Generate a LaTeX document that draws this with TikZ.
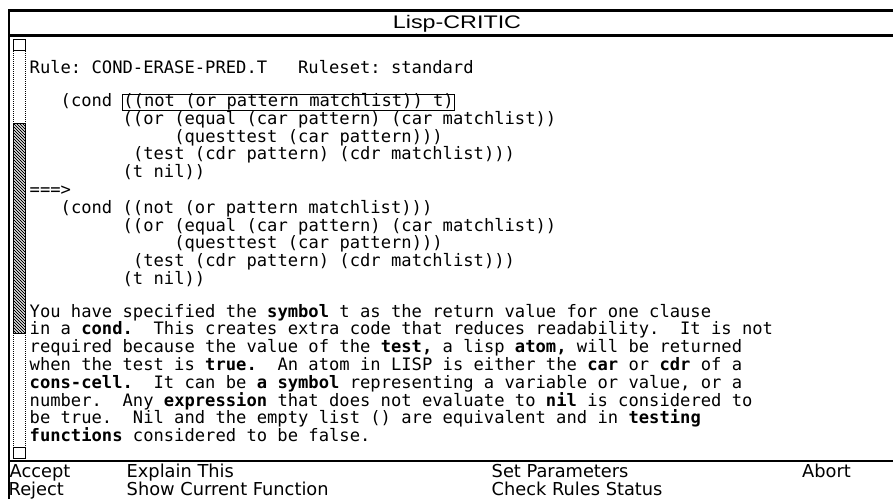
\documentclass[tikz,border=0pt]{standalone}
\usepackage{fontspec}
\usepackage{graphicx}
\newfontfamily\codefont{DejaVu Sans Mono}
\newfontfamily\titlefont{Liberation Sans}
\newfontfamily\menufont{DejaVu Sans}

\tikzset{
  frameline/.style={line width=2.4pt},
  code/.style={anchor=base west, inner sep=0pt,
    font=\codefont\fontsize{17.15}{20}\selectfont\frenchspacing},
  menu/.style={anchor=base west, inner sep=0pt,
    font=\menufont\fontsize{17.8}{20}\selectfont},
  scrollbox/.style={draw, line width=1pt, fill=white},
  rail/.style={line width=1pt, dash pattern=on 1pt off 1pt},
  marked/.style={draw, line width=0.9pt, inner xsep=0.5pt, inner ysep=0.5pt,
    text height=12pt, text depth=3pt},
}

\begin{document}
\begin{tikzpicture}[x=1pt,y=-1pt]
\fill[white] (0,0) rectangle (893,499);
\useasboundingbox (0,0) rectangle (893,499);

\def\cw{10.33}
\def\xo{29.5}
\def\pitch{17.8}

% window frame, title bar and menu separator
\draw[frameline] (8.7,499) -- (8.7,10.5) -- (893,10.5);
\draw[frameline] (8.7,35.5) -- (893,35.5);
\draw[line width=1.8pt] (8.7,461) -- (893,461);

\node[anchor=base, inner sep=0pt, font=\titlefont\fontsize{18.2}{20}\selectfont]
  (title) at (457,28) {\scalebox{1.28}[1]{Lisp-CRITIC}};

% scroll bar
\draw[rail] (13.5,51) -- (13.5,447);
\draw[rail] (25.5,51) -- (25.5,447);
\begin{scope}
  \clip (13.5,123.5) rectangle (25.5,333);
  \fill[white] (13.5,123.5) rectangle (25.5,333);
  \foreach \t in {-15,-12,...,333}
    \draw[line width=1pt] (13.5,123.5+\t) -- (25.5,135.5+\t);
\end{scope}
\draw[line width=1pt] (13.5,123.5) rectangle (25.5,333);
\draw[scrollbox] (13.5,39.5) rectangle (25.5,50.5);
\draw[scrollbox] (13.5,447) rectangle (25.5,458.5);

% rule header
\node[code] (rule) at (\xo,73.5) {Rule: COND-ERASE-PRED.T~~~Ruleset: standard};

% original form
\node[code] (c1) at ({\xo+3*\cw},106.5) {(cond};
\node[code, marked] (hit) at ({\xo+9*\cw},106.5) {((not (or pattern matchlist)) t)};
\node[code] (c2) at ({\xo+9*\cw},{106.5+1*\pitch}) {((or (equal (car pattern) (car matchlist))};
\node[code] (c3) at ({\xo+14*\cw},{106.5+2*\pitch}) {(questtest (car pattern)))};
\node[code] (c4) at ({\xo+10*\cw},{106.5+3*\pitch}) {(test (cdr pattern) (cdr matchlist)))};
\node[code] (c5) at ({\xo+9*\cw},{106.5+4*\pitch}) {(t nil))};

\node[code] (arrow) at (\xo,{106.5+5*\pitch}) {===>};

% rewritten form
\node[code] (d1) at ({\xo+3*\cw},{106.5+6*\pitch}) {(cond ((not (or pattern matchlist)))};
\node[code] (d2) at ({\xo+9*\cw},{106.5+7*\pitch}) {((or (equal (car pattern) (car matchlist))};
\node[code] (d3) at ({\xo+14*\cw},{106.5+8*\pitch}) {(questtest (car pattern)))};
\node[code] (d4) at ({\xo+10*\cw},{106.5+9*\pitch}) {(test (cdr pattern) (cdr matchlist)))};
\node[code] (d5) at ({\xo+9*\cw},{106.5+10*\pitch}) {(t nil))};

% explanation
\node[code] (p1) at (\xo,317) {You have specified the \textbf{symbol} t as the return value for one clause};
\node[code] (p2) at (\xo,{317+1*\pitch}) {in a \textbf{cond.}~~This creates extra code that reduces readability.~~It is not};
\node[code] (p3) at (\xo,{317+2*\pitch}) {required because the value of the \textbf{test,} a lisp \textbf{atom,} will be returned};
\node[code] (p4) at (\xo,{317+3*\pitch}) {when the test is \textbf{true.}~~An atom in LISP is either the \textbf{car} or \textbf{cdr} of a};
\node[code] (p5) at (\xo,{317+4*\pitch}) {\textbf{cons-cell.}~~It can be \textbf{a symbol} representing a variable or value, or a};
\node[code] (p6) at (\xo,{317+5*\pitch}) {number.~~Any \textbf{expression} that does not evaluate to \textbf{nil} is considered to};
\node[code] (p7) at (\xo,{317+6*\pitch}) {be true.~~Nil and the empty list () are equivalent and in \textbf{testing}};
\node[code] (p8) at (\xo,{317+7*\pitch}) {\textbf{functions} considered to be false.};

% command menu
\node[menu] (accept)  at (9.5,477)   {Accept};
\node[menu] (reject)  at (8.5,495)   {Reject};
\node[menu] (explain) at (126.5,477) {Explain This};
\node[menu] (showfn)  at (126.5,495) {Show Current Function};
\node[menu] (setpar)  at (491.5,477) {Set Parameters};
\node[menu] (status)  at (491.5,495) {Check Rules Status};
\node[menu] (abort)   at (802,477)   {Abort};
\end{tikzpicture}
\end{document}
